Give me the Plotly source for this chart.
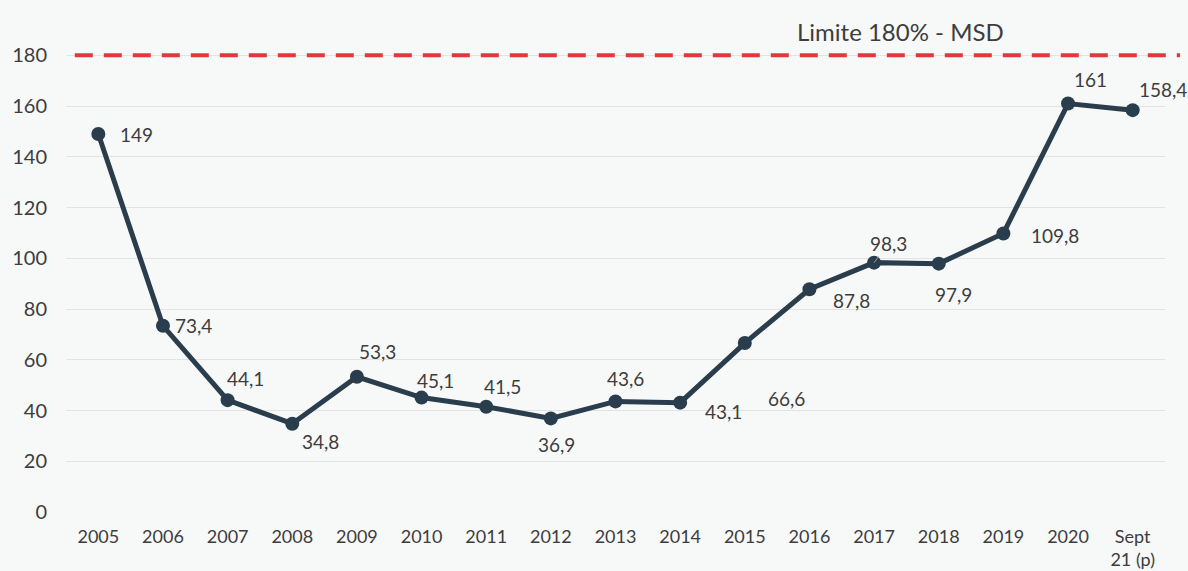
import plotly.graph_objects as go

categories = ["2005", "2006", "2007", "2008", "2009", "2010", "2011", "2012", "2013",
              "2014", "2015", "2016", "2017", "2018", "2019", "2020", "Sept<br>21 (p)"]
values = [149, 73.4, 44.1, 34.8, 53.3, 45.1, 41.5, 36.9, 43.6,
          43.1, 66.6, 87.8, 98.3, 97.9, 109.8, 161, 158.4]
limit_value = 180
limit_label = "Limite 180% - MSD"
y_ticks = [0, 20, 40, 60, 80, 100, 120, 140, 160, 180]

# label offsets in pixels (dx, dy), style only
offsets = [(38, 0), (31, 0), (18, 22), (28, -18), (21, 25), (14, 17), (16, 20), (6, -26),
           (10, 23), (43, -9), (42, -55), (42, -11), (12, 19), (15, -31), (52, -2),
           (22, 24), (30, 21)]

FONT = "Lato"
TXT = "#3d3d3d"
LINE = "#2a3d4c"

xpos = list(range(len(categories)))

fig = go.Figure()
fig.add_trace(go.Scatter(
    x=xpos, y=values, mode="lines+markers",
    line=dict(color=LINE, width=5),
    marker=dict(color=LINE, size=14),
    hoverinfo="skip", showlegend=False,
))

annotations = []
for i, v in enumerate(values):
    dx, dy = offsets[i]
    txt = f"{v:g}".replace(".", ",")
    if i == 12:
        annotations.append(dict(x=xpos[i], y=v, xref="x", yref="y", text=txt,
                                showarrow=True, arrowhead=0, arrowwidth=1,
                                arrowcolor="#9a9a9a", ax=dx + 2, ay=-dy,
                                standoff=0, startstandoff=0,
                                font=dict(family=FONT, size=19, color=TXT),
                                xanchor="center", yanchor="middle"))
    else:
        annotations.append(dict(x=xpos[i], y=v, xref="x", yref="y", text=txt,
                                showarrow=False, xshift=dx, yshift=dy,
                                font=dict(family=FONT, size=19, color=TXT),
                                xanchor="center", yanchor="middle"))

annotations.append(dict(x=0.759, y=limit_value, xref="paper", yref="y",
                        text=limit_label, showarrow=False, yshift=7,
                        xanchor="center", yanchor="bottom",
                        font=dict(family=FONT, size=24, color=TXT)))

fig.add_shape(type="line", xref="paper", yref="y", x0=0.008, x1=1.0137,
              y0=limit_value, y1=limit_value,
              line=dict(color="#e2383a", width=4, dash="18px,11px"))

fig.update_layout(
    width=1188, height=571,
    margin=dict(l=66, r=23, t=30, b=59, autoexpand=False),
    paper_bgcolor="#f7f8f8", plot_bgcolor="#f7f8f8",
    font=dict(family=FONT, color=TXT),
    annotations=annotations,
    xaxis=dict(range=[-0.5, len(categories) - 0.5], tickvals=xpos, ticktext=categories,
               showgrid=False, zeroline=False, showline=False, automargin=False,
               ticks="outside", ticklen=8, tickcolor="rgba(0,0,0,0)",
               tickfont=dict(family=FONT, size=18, color=TXT), fixedrange=True),
    yaxis=dict(range=[0, 190], tickvals=y_ticks, showgrid=True, automargin=False,
               gridcolor="#e2e4e4", gridwidth=1, zeroline=False, showline=False,
               ticks="outside", ticklen=14, tickcolor="rgba(0,0,0,0)",
               tickfont=dict(family=FONT, size=20, color=TXT), fixedrange=True),
)

fig.write_html("out.html", config={"displayModeBar": False},
               post_script="document.body.style.margin='0';")
